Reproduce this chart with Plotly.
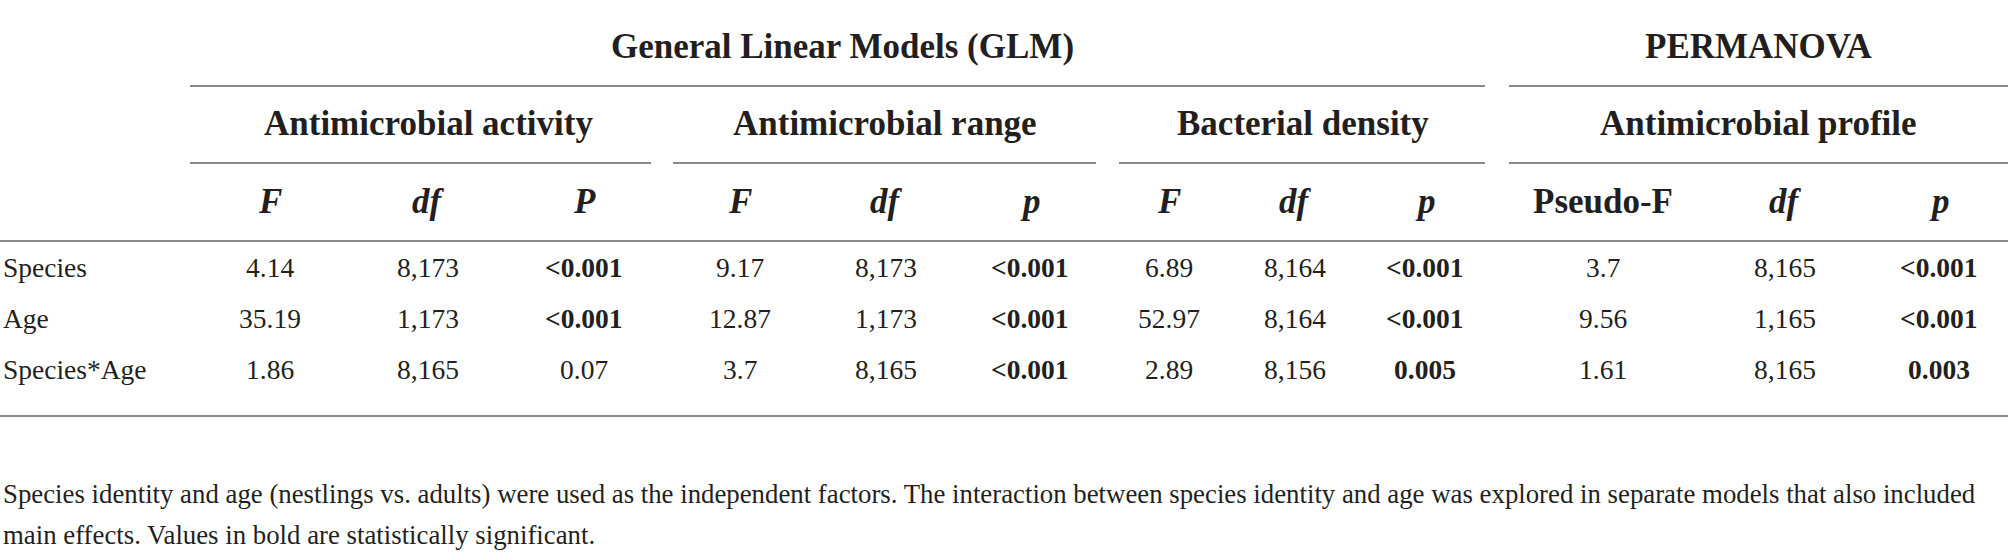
import plotly.graph_objects as go

# ---- data ----
row_labels = ["Species", "Age", "Species*Age"]
groups = ["General Linear Models (GLM)", "PERMANOVA"]
subgroups = ["Antimicrobial activity", "Antimicrobial range", "Bacterial density", "Antimicrobial profile"]
col_headers = ["F", "df", "P", "F", "df", "p", "F", "df", "p", "Pseudo-F", "df", "p"]
col_italic = [True, True, True, True, True, True, True, True, True, False, True, True]

act_F = ["4.14", "35.19", "1.86"]
act_df = ["8,173", "1,173", "8,165"]
act_p = ["<0.001", "<0.001", "0.07"]
rng_F = ["9.17", "12.87", "3.7"]
rng_df = ["8,173", "1,173", "8,165"]
rng_p = ["<0.001", "<0.001", "<0.001"]
den_F = ["6.89", "52.97", "2.89"]
den_df = ["8,164", "8,164", "8,156"]
den_p = ["<0.001", "<0.001", "0.005"]
prof_F = ["3.7", "9.56", "1.61"]
prof_df = ["8,165", "1,165", "8,165"]
prof_p = ["<0.001", "<0.001", "0.003"]

columns = [act_F, act_df, act_p, rng_F, rng_df, rng_p, den_F, den_df, den_p, prof_F, prof_df, prof_p]
is_p_col = [False, False, True] * 4

footnote_lines = [
    "Species identity and age (nestlings vs. adults) were used as the independent factors. "
    "The interaction between species identity and age was explored in separate models that also included",
    "main effects. Values in bold are statistically significant.",
]

# ---- layout positions (pixels) ----
W, H = 2008, 560
col_x = [270, 428, 584, 740, 886, 1030, 1169, 1295, 1425, 1603, 1785, 1939]
row_y = [267, 318, 369]
group_x = [842, 1759]
group_y = 46
group_lines = [(190, 1485), (1509, 2008)]
group_line_y = 86
sub_x = [428, 885, 1303, 1758]
sub_y = 123
sub_lines = [(190, 651), (673, 1096), (1119, 1485), (1509, 2008)]
sub_line_y = 163
head_y = 201
head_line_y = 241
bottom_line_y = 416
foot_y = [494, 535]

FONT = "Liberation Serif"
TXT = "#231f20"
LINE = "#8a8a8a"
HEAD_SIZE = 35
BODY_SIZE = 27.5
FOOT_SIZE = 26.8

def is_sig(v):
    s = v.replace("<", "")
    return float(s) < 0.05

fig = go.Figure()
fig.add_trace(go.Scatter(x=[0, W], y=[0, H], mode="markers", marker=dict(opacity=0), hoverinfo="skip", showlegend=False))

ann = []
for gx, g in zip(group_x, groups):
    ann.append(dict(x=gx, y=group_y, text=f"<b>{g}</b>", font=dict(size=HEAD_SIZE)))
for sx, s in zip(sub_x, subgroups):
    ann.append(dict(x=sx, y=sub_y, text=f"<b>{s}</b>", font=dict(size=HEAD_SIZE)))
for cx, h, it in zip(col_x, col_headers, col_italic):
    t = f"<b><i>{h}</i></b>" if it else f"<b>{h}</b>"
    ann.append(dict(x=cx, y=head_y, text=t, font=dict(size=HEAD_SIZE)))
for ry, lab in zip(row_y, row_labels):
    ann.append(dict(x=1, y=ry, text=lab, xanchor="left", font=dict(size=BODY_SIZE)))
for cx, col, isp in zip(col_x, columns, is_p_col):
    for ry, v in zip(row_y, col):
        t = v.replace("<", "&lt;")
        if isp and is_sig(v):
            t = f"<b>{t}</b>"
        ann.append(dict(x=cx, y=ry, text=t, font=dict(size=BODY_SIZE)))
for fy, line in zip(foot_y, footnote_lines):
    ann.append(dict(x=1, y=fy, text=line, xanchor="left", align="left", font=dict(size=FOOT_SIZE)))

for a in ann:
    a.setdefault("xanchor", "center")
    a["yanchor"] = "middle"
    a["showarrow"] = False
    a["xref"] = "x"
    a["yref"] = "y"
    a["font"] = dict(family=FONT, color=TXT, size=a["font"]["size"])

shapes = []
def hline(x0, x1, y):
    shapes.append(dict(type="line", xref="x", yref="y", x0=x0, x1=x1, y0=y, y1=y,
                       line=dict(color=LINE, width=1.8)))
for x0, x1 in group_lines:
    hline(x0, x1, group_line_y)
for x0, x1 in sub_lines:
    hline(x0, x1, sub_line_y)
hline(0, W, head_line_y)
hline(0, W, bottom_line_y)

fig.update_layout(
    width=W, height=H, margin=dict(l=0, r=0, t=0, b=0),
    paper_bgcolor="white", plot_bgcolor="white",
    xaxis=dict(range=[0, W], visible=False, fixedrange=True),
    yaxis=dict(range=[H, 0], visible=False, fixedrange=True),
    annotations=ann, shapes=shapes, showlegend=False,
)
fig.write_html("out.html", config={"displayModeBar": False},
               post_script="document.body.style.margin='0';document.body.style.overflow='hidden';")
